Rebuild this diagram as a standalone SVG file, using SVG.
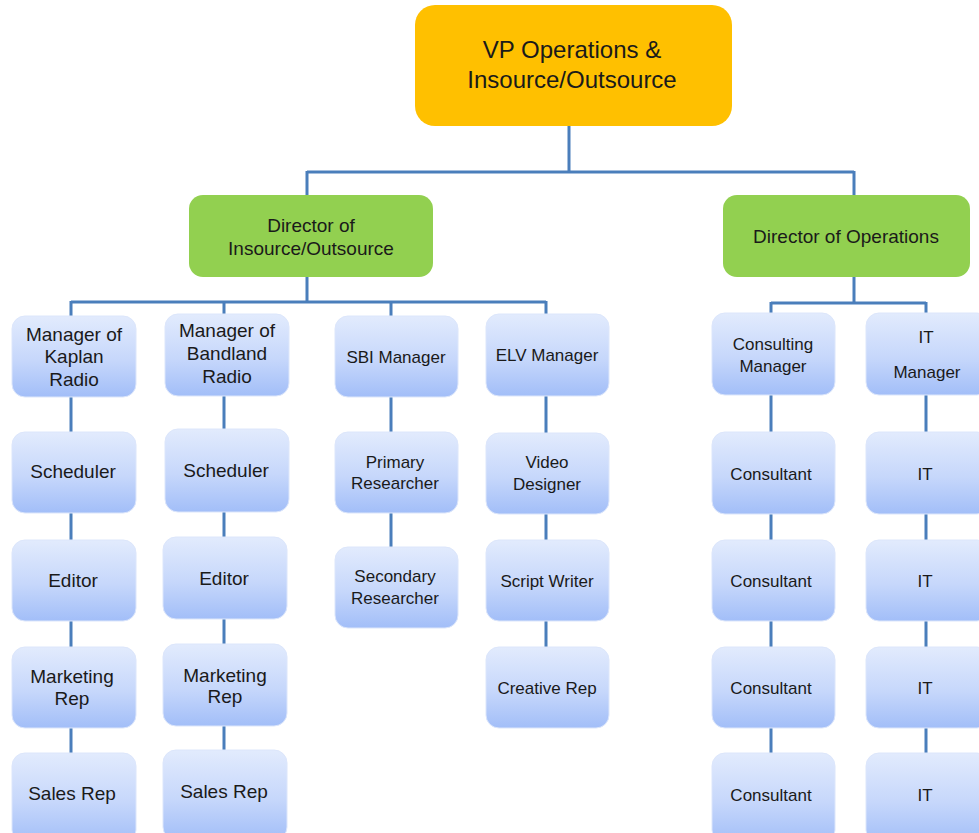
<svg xmlns="http://www.w3.org/2000/svg" width="979" height="833" viewBox="0 0 979 833">
<defs>
<linearGradient id="bg" x1="0" y1="0" x2="0" y2="1">
<stop offset="0" stop-color="#E2EBFD"/>
<stop offset="0.55" stop-color="#C6D7FB"/>
<stop offset="1" stop-color="#A2BEF8"/>
</linearGradient>
<style>
text{font-family:"Liberation Sans",Arial,sans-serif;fill:#1a1a1a;text-anchor:middle}
.c{fill:none;stroke:#4A7EBB;stroke-width:3}
.b{fill:url(#bg);stroke:#DCE6FB;stroke-width:1}
.top{fill:#FFC000}
.dir{fill:#92D050}
.t24{font-size:24px}
.t19{font-size:19px}
.t17{font-size:17px}
</style>
</defs>
<rect width="979" height="833" fill="#ffffff"/>
<g id="connectors">
<path class="c" d="M569 126V172M307 172H854M307 171V195M854 171V195"/>
<path class="c" d="M307 277V302M71 302H546M71 301V316M224 301V314M391 301V316M546 301V314"/>
<path class="c" d="M854 277V303M771 303H926M771 302V313M926 302V313"/>
<path class="c" d="M71 397V432M71 513V540M71 621V647M71 728V753"/>
<path class="c" d="M224 396V429M224 512V537M224 619V644M224 726V750"/>
<path class="c" d="M391 397V432M391 513V547"/>
<path class="c" d="M546 396V433M546 514V540M546 621V647"/>
<path class="c" d="M771 395V432M771 514V540M771 621V647M771 728V753"/>
<path class="c" d="M926 395V432M926 514V540M926 621V647M926 728V753"/>
</g>
<g id="vp"><rect class="top" x="415" y="5" width="317" height="121" rx="20"/><text class="t24" x="572" y="58">VP Operations &amp;</text><text class="t24" x="572" y="88">Insource/Outsource</text></g>
<g id="dir-insource"><rect class="dir" x="189" y="195" width="244" height="82" rx="14"/><text class="t19" x="311" y="232">Director of</text><text class="t19" x="311" y="255">Insource/Outsource</text></g>
<g id="dir-ops"><rect class="dir" x="723" y="195" width="247" height="82" rx="14"/><text class="t19" x="846" y="243">Director of Operations</text></g>

<g id="mgr-kaplan"><rect class="b" x="12" y="316" width="124" height="81" rx="13"/><text class="t19" x="74" y="341">Manager of</text><text class="t19" x="74" y="363">Kaplan</text><text class="t19" x="74" y="386">Radio</text></g>
<g id="kaplan-scheduler"><rect class="b" x="12" y="432" width="124" height="81" rx="13"/><text class="t19" x="73" y="478">Scheduler</text></g>
<g id="kaplan-editor"><rect class="b" x="12" y="540" width="124" height="81" rx="13"/><text class="t19" x="73" y="587">Editor</text></g>
<g id="kaplan-marketing"><rect class="b" x="12" y="647" width="124" height="81" rx="13"/><text class="t19" x="72" y="683">Marketing</text><text class="t19" x="72" y="705">Rep</text></g>
<g id="kaplan-sales"><rect class="b" x="12" y="753" width="124" height="90" rx="13"/><text class="t19" x="72" y="800">Sales Rep</text></g>

<g id="mgr-bandland"><rect class="b" x="165" y="314" width="124" height="82" rx="13"/><text class="t19" x="227" y="337">Manager of</text><text class="t19" x="227" y="360">Bandland</text><text class="t19" x="227" y="383">Radio</text></g>
<g id="bandland-scheduler"><rect class="b" x="165" y="429" width="124" height="83" rx="13"/><text class="t19" x="226" y="477">Scheduler</text></g>
<g id="bandland-editor"><rect class="b" x="163" y="537" width="124" height="82" rx="13"/><text class="t19" x="224" y="585">Editor</text></g>
<g id="bandland-marketing"><rect class="b" x="163" y="644" width="124" height="82" rx="13"/><text class="t19" x="225" y="682">Marketing</text><text class="t19" x="225" y="703">Rep</text></g>
<g id="bandland-sales"><rect class="b" x="163" y="750" width="124" height="90" rx="13"/><text class="t19" x="224" y="798">Sales Rep</text></g>

<g id="mgr-sbi"><rect class="b" x="335" y="316" width="123" height="81" rx="13"/><text class="t17" x="396" y="363">SBI Manager</text></g>
<g id="sbi-primary"><rect class="b" x="335" y="432" width="123" height="81" rx="13"/><text class="t17" x="395" y="468">Primary</text><text class="t17" x="395" y="489">Researcher</text></g>
<g id="sbi-secondary"><rect class="b" x="335" y="547" width="123" height="81" rx="13"/><text class="t17" x="395" y="582">Secondary</text><text class="t17" x="395" y="604">Researcher</text></g>

<g id="mgr-elv"><rect class="b" x="486" y="314" width="123" height="82" rx="13"/><text class="t17" x="547" y="361">ELV Manager</text></g>
<g id="elv-video"><rect class="b" x="486" y="433" width="123" height="81" rx="13"/><text class="t17" x="547" y="468">Video</text><text class="t17" x="547" y="490">Designer</text></g>
<g id="elv-script"><rect class="b" x="486" y="540" width="123" height="81" rx="13"/><text class="t17" x="547" y="587">Script Writer</text></g>
<g id="elv-creative"><rect class="b" x="486" y="647" width="123" height="81" rx="13"/><text class="t17" x="547" y="694">Creative Rep</text></g>

<g id="mgr-consulting"><rect class="b" x="712" y="313" width="123" height="82" rx="13"/><text class="t17" x="773" y="350">Consulting</text><text class="t17" x="773" y="372">Manager</text></g>
<g id="consultant-1"><rect class="b" x="712" y="432" width="123" height="82" rx="13"/><text class="t17" x="771" y="480">Consultant</text></g>
<g id="consultant-2"><rect class="b" x="712" y="540" width="123" height="81" rx="13"/><text class="t17" x="771" y="587">Consultant</text></g>
<g id="consultant-3"><rect class="b" x="712" y="647" width="123" height="81" rx="13"/><text class="t17" x="771" y="694">Consultant</text></g>
<g id="consultant-4"><rect class="b" x="712" y="753" width="123" height="90" rx="13"/><text class="t17" x="771" y="801">Consultant</text></g>

<g id="mgr-it"><rect class="b" x="866" y="313" width="124" height="82" rx="13"/><text class="t17" x="926" y="343">IT</text><text class="t17" x="927" y="378">Manager</text></g>
<g id="it-1"><rect class="b" x="866" y="432" width="124" height="82" rx="13"/><text class="t17" x="925" y="480">IT</text></g>
<g id="it-2"><rect class="b" x="866" y="540" width="124" height="81" rx="13"/><text class="t17" x="925" y="587">IT</text></g>
<g id="it-3"><rect class="b" x="866" y="647" width="124" height="81" rx="13"/><text class="t17" x="925" y="694">IT</text></g>
<g id="it-4"><rect class="b" x="866" y="753" width="124" height="90" rx="13"/><text class="t17" x="925" y="801">IT</text></g>
</svg>
